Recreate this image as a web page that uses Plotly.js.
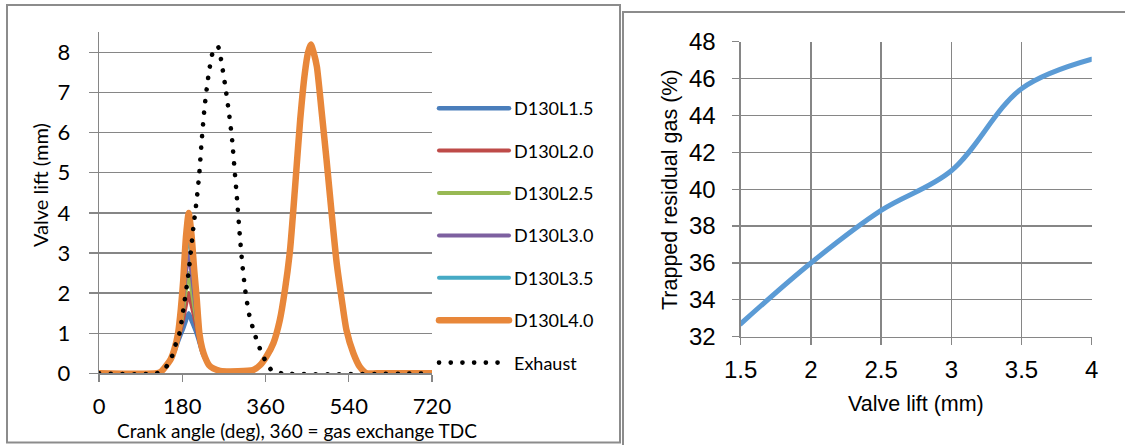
<!DOCTYPE html>
<html>
<head>
<meta charset="utf-8">
<script src="https://cdn.plot.ly/plotly-3.0.1.min.js"></script>
<style>
html,body{margin:0;padding:0;background:#fff;}
#chart{width:1125px;height:445px;}
#chart path.js-line{stroke-linecap:round !important;}
</style>
</head>
<body>
<div id="chart"></div>
<script>
// ---- Left chart: valve lift vs crank angle ----
const seriesNames = ["D130L1.5", "D130L2.0", "D130L2.5", "D130L3.0", "D130L3.5", "D130L4.0"];
// early (small) lift event, shared crank angles
const earlyAngle = [0, 125, 135, 146, 155, 163, 171, 177, 182, 188, 194, 200, 206, 211, 217, 223, 229, 238, 247, 262];
const liftL15 = [0, 0, 0.05, 0.2, 0.35, 0.55, 0.8, 0.98, 1.12, 1.32, 1.5, 1.32, 1.15, 1.0, 0.78, 0.54, 0.38, 0.2, 0.12, 0.06];
const liftL20 = [0, 0, 0.05, 0.2, 0.35, 0.58, 0.85, 1.1, 1.35, 1.7, 2.0, 1.7, 1.4, 1.15, 0.8, 0.55, 0.39, 0.2, 0.12, 0.06];
const liftL25 = [0, 0, 0.05, 0.2, 0.35, 0.6, 0.9, 1.2, 1.6, 2.1, 2.5, 2.1, 1.65, 1.3, 0.85, 0.56, 0.4, 0.2, 0.12, 0.06];
const liftL30 = [0, 0, 0.05, 0.2, 0.35, 0.6, 0.95, 1.35, 1.85, 2.5, 3.0, 2.5, 1.95, 1.45, 0.9, 0.58, 0.4, 0.2, 0.12, 0.06];
const liftL35 = [0, 0, 0.05, 0.2, 0.35, 0.6, 1.0, 1.5, 2.1, 2.95, 3.5, 2.95, 2.25, 1.6, 0.95, 0.6, 0.4, 0.2, 0.12, 0.06];
const liftL40 = [0, 0, 0.05, 0.2, 0.35, 0.6, 1.0, 1.6, 2.3, 3.4, 4.0, 3.45, 2.55, 1.9, 1.0, 0.62, 0.41, 0.2, 0.12, 0.06];
// main lift event (identical for all series)
const mainAngle = [300, 333, 348, 362, 377, 391, 402, 413, 424, 435, 445, 452, 458, 464, 471, 481, 492, 503, 514, 525, 535, 550, 564, 579, 600, 720];
const mainLift = [0.05, 0.08, 0.2, 0.42, 0.75, 1.33, 2.08, 3.07, 4.65, 6.32, 7.48, 8.0, 8.2, 8.0, 7.65, 6.57, 5.32, 3.99, 2.74, 1.83, 1.08, 0.5, 0.16, 0, 0, 0];
// exhaust valve
const exhAngle = [0, 125, 144, 158, 166, 174, 182, 193, 204, 211, 217, 222, 228, 234, 239, 246, 257, 267, 275, 282, 288, 293, 298, 304, 310, 317, 325, 336, 342, 350, 359, 373, 395, 720];
const exhLift = [0, 0, 0.14, 0.43, 0.73, 1.0, 1.56, 2.45, 3.63, 4.3, 5.0, 5.8, 6.6, 7.2, 7.6, 8.0, 8.15, 7.6, 7.0, 6.4, 5.8, 5.1, 4.4, 3.5, 2.7, 2.0, 1.45, 1.0, 0.8, 0.55, 0.33, 0.08, 0, 0];
const angleTicks = [0, 180, 360, 540, 720];
const liftTicks = [0, 1, 2, 3, 4, 5, 6, 7, 8];

// ---- Right chart: trapped residual gas vs valve lift ----
const valveLift = [1.5, 2, 2.5, 3, 3.5, 4];
const residualGas = [32.7, 36.0, 38.85, 41.0, 45.45, 47.05];
const liftAxisTicks = [1.5, 2, 2.5, 3, 3.5, 4];
const gasTicks = [32, 34, 36, 38, 40, 42, 44, 46, 48];

const colors = ["#4a7ebb", "#be4b48", "#98b954", "#7d60a0", "#46aac5", "#e8873a"];
const widths = [4.5, 4, 4, 4, 4, 6.5];
const earlySets = [liftL15, liftL20, liftL25, liftL30, liftL35, liftL40];

const leftFont = "Lato, 'Open Sans', sans-serif";
const rightFont = "'Liberation Sans', Arial, sans-serif";
const grid = "#868686";

const traces = [];
seriesNames.forEach((n, i) => {
  traces.push({
    x: earlyAngle.concat(mainAngle), y: earlySets[i].concat(mainLift),
    type: "scatter", mode: "lines", name: n, legendgroup: n,
    line: {color: colors[i], width: widths[i], shape: "spline", smoothing: 0.6},
    xaxis: "x", yaxis: "y"
  });
});
traces.push({
  x: exhAngle, y: exhLift, type: "scatter", mode: "lines", name: "Exhaust", legendgroup: "Exhaust",
  line: {color: "#000000", width: 4.6, dash: "0.1px,11.6px", shape: "spline", smoothing: 0.6},
  xaxis: "x", yaxis: "y"
});
traces.push({
  x: valveLift, y: residualGas, type: "scatter", mode: "lines", showlegend: false,
  line: {color: "#5b9bd5", width: 5, shape: "spline", smoothing: 1},
  xaxis: "x2", yaxis: "y2"
});

const W = 1125, H = 445;
const px = v => v / W, py = v => 1 - v / H;
const border = "#8c8c8c";

const layout = {
  width: W, height: H, margin: {l: 0, r: 0, t: 0, b: 0},
  paper_bgcolor: "#ffffff", plot_bgcolor: "rgba(0,0,0,0)",
  showlegend: true,
  legend: {
    x: px(434), y: py(90), xanchor: "left", yanchor: "top",
    font: {family: leftFont, size: 18, color: "#000"},
    tracegroupgap: 16, itemwidth: 70, bgcolor: "rgba(0,0,0,0)"
  },
  xaxis: {
    domain: [px(99), px(432)], range: [0, 720], tickvals: angleTicks,
    showgrid: false, zeroline: false, showline: true, linecolor: grid, linewidth: 1.3,
    ticks: "outside", ticklen: 7, tickcolor: grid, tickwidth: 1.3,
    tickfont: {family: leftFont, size: 22, color: "#000"}, ticklabelstandoff: 6,
    anchor: "y", fixedrange: true
  },
  yaxis: {
    domain: [py(373.3), py(32.4)], range: [0, 8.5], tickvals: liftTicks,
    showgrid: true, gridcolor: grid, gridwidth: 1.3, zeroline: false,
    showline: true, linecolor: grid, linewidth: 1.3,
    ticks: "outside", ticklen: 9, tickcolor: grid, tickwidth: 1.3,
    tickfont: {family: leftFont, size: 22, color: "#000"}, ticklabelstandoff: 14,
    anchor: "x", fixedrange: true
  },
  xaxis2: {
    domain: [px(740.7), px(1091.7)], range: [1.5, 4], tickvals: liftAxisTicks,
    showgrid: true, gridcolor: grid, gridwidth: 1.3, zeroline: false,
    showline: true, linecolor: grid, linewidth: 1.3,
    ticks: "outside", ticklen: 7, tickcolor: grid, tickwidth: 1.3,
    tickfont: {family: rightFont, size: 24, color: "#000"}, ticklabelstandoff: 4,
    anchor: "y2", fixedrange: true
  },
  yaxis2: {
    domain: [py(336.7), py(41.7)], range: [32, 48], tickvals: gasTicks,
    showgrid: true, gridcolor: grid, gridwidth: 1.3, zeroline: false,
    showline: true, linecolor: grid, linewidth: 1.3,
    ticks: "outside", ticklen: 7, tickcolor: grid, tickwidth: 1.3,
    tickfont: {family: rightFont, size: 24, color: "#000"}, ticklabelstandoff: 12,
    anchor: "x2", fixedrange: true
  },
  shapes: [
    {type: "rect", xref: "paper", yref: "paper", x0: px(7), x1: px(620), y0: py(442.5), y1: py(5),
     line: {color: border, width: 2}},
    {type: "path", xref: "paper", yref: "paper",
     path: `M ${px(623)} ${py(445)} L ${px(623)} ${py(12)} L ${px(1125)} ${py(12)}`,
     line: {color: border, width: 2}}
  ],
  annotations: [
    {text: "Valve lift (mm)", xref: "paper", yref: "paper", x: px(40), y: py(185), textangle: -90,
     showarrow: false, xanchor: "center", yanchor: "middle", font: {family: leftFont, size: 20, color: "#000"}},
    {text: "Crank angle (deg), 360 = gas exchange TDC", xref: "paper", yref: "paper", x: px(297), y: py(430),
     showarrow: false, xanchor: "center", yanchor: "middle", font: {family: leftFont, size: 19, color: "#000"}},
    {text: "Trapped residual gas (%)", xref: "paper", yref: "paper", x: px(670), y: py(189), textangle: -90,
     showarrow: false, xanchor: "center", yanchor: "middle", font: {family: rightFont, size: 21.5, color: "#000"}},
    {text: "Valve lift (mm)", xref: "paper", yref: "paper", x: px(916), y: py(404),
     showarrow: false, xanchor: "center", yanchor: "middle", font: {family: rightFont, size: 21.5, color: "#000"}}
  ]
};

Plotly.newPlot("chart", traces, layout, {displayModeBar: false, staticPlot: true});
</script>
</body>
</html>
